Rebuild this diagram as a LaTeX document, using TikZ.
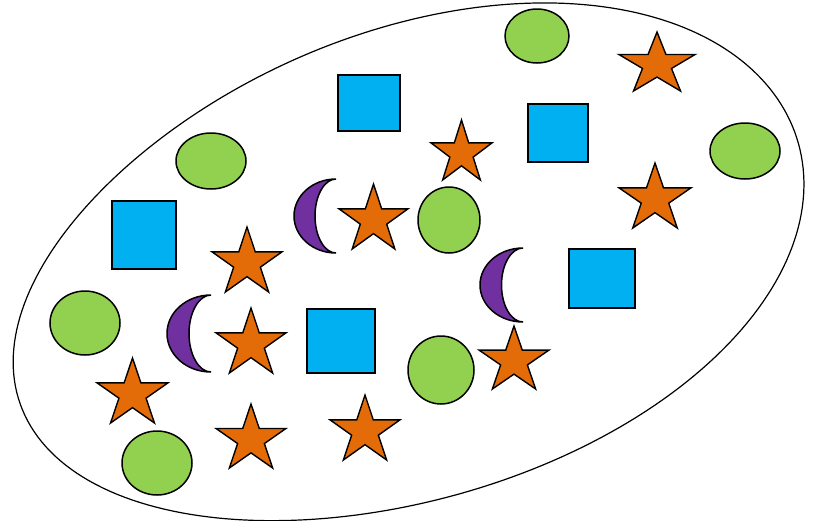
\documentclass[tikz,border=0pt]{standalone}
\usetikzlibrary{shapes.geometric}
\definecolor{cgreen}{HTML}{92D050}
\definecolor{cblue}{HTML}{00B0F0}
\definecolor{corange}{HTML}{E36C09}
\definecolor{cpurple}{HTML}{7030A0}
\tikzset{
  setline/.style={draw=black, line width=1.2pt},
  greenblob/.style={draw=black, line width=1.5pt, fill=cgreen},
  bluebox/.style={draw=black, line width=1.5pt, fill=cblue},
  orangestar/.style={draw=black, line width=1.4pt, fill=corange, line join=miter},
  purplemoon/.style={draw=black, line width=1.5pt, fill=cpurple},
  declare function={
    egg(\t)=1+0.0144*cos(\t)+0.0197*sin(\t)+0.0005*cos(2*\t)-0.0075*sin(2*\t)-0.0125*cos(3*\t)+0.0043*sin(3*\t);
  },
}
% star inside bounding box: left, top, right, bottom (pixel coords, y down)
\newcommand{\ostar}[4]{%
  \begin{scope}[shift={({(#1+#3)/2},{#2+(#4-#2)/1.809})}, xscale={(#3-#1)/1.902}, yscale={(#4-#2)/1.809}]
    \draw[orangestar] (0,-1) -- (0.2245,-0.309) -- (0.951,-0.309) -- (0.3633,0.118) -- (0.588,0.809) -- (0,0.382) -- (-0.588,0.809) -- (-0.3633,0.118) -- (-0.951,-0.309) -- (-0.2245,-0.309) -- cycle;
  \end{scope}}
% crescent: left, top, width, height (opening to the right)
\newcommand{\omoon}[4]{%
  \draw[purplemoon] ({#1+#3},#2)
    .. controls ({#1+#3-0.552*#3},#2) and (#1,{#2+#4/2-0.552*#4/2}) .. (#1,{#2+#4/2})
    .. controls (#1,{#2+#4/2+0.552*#4/2}) and ({#1+#3-0.552*#3},{#2+#4}) .. ({#1+#3},{#2+#4})
    .. controls ({#1+#3-0.552*0.5*#3},{#2+#4}) and ({#1+0.5*#3},{#2+#4/2+0.552*#4/2}) .. ({#1+0.5*#3},{#2+#4/2})
    .. controls ({#1+0.5*#3},{#2+#4/2-0.552*#4/2}) and ({#1+#3-0.552*0.5*#3},#2) .. cycle;}
\begin{document}
\begin{tikzpicture}[x=1pt,y=-1pt]
\useasboundingbox (0,0) rectangle (819,520);
% outer set (slightly egg-shaped tilted oval)
\draw[setline] plot[domain=0:360, samples=241, variable=\t]
  ({405+egg(\t)*(388.8*cos(\t)+74.25*sin(\t))}, {262.5+egg(\t)*(-130.1*cos(\t)+221.9*sin(\t))}) -- cycle;
% green ellipses
\draw[greenblob] (537,36) ellipse [x radius=32pt, y radius=27pt];
\draw[greenblob] (211,161) ellipse [x radius=35pt, y radius=28pt];
\draw[greenblob] (745,151) ellipse [x radius=35pt, y radius=28pt];
\draw[greenblob] (449,220) ellipse [x radius=31pt, y radius=33pt];
\draw[greenblob] (85,323) ellipse [x radius=35pt, y radius=32pt];
\draw[greenblob] (441,370) ellipse [x radius=33pt, y radius=34pt];
\draw[greenblob] (157,463) ellipse [x radius=35pt, y radius=32pt];
% blue rectangles
\draw[bluebox] (338,75) rectangle (400,131);
\draw[bluebox] (528,104) rectangle (588,162);
\draw[bluebox] (112,201) rectangle (176,269);
\draw[bluebox] (569,249) rectangle (635,308);
\draw[bluebox] (307,309) rectangle (375,373);
% stars
\ostar{619}{32}{695}{91}
\ostar{431}{120}{492}{180}
\ostar{339}{184}{408}{249}
\ostar{619}{163}{691}{228}
\ostar{212}{227}{282}{292}
\ostar{216}{308}{286}{373}
\ostar{479}{326}{549}{389}
\ostar{97}{358}{168}{423}
\ostar{216}{404}{286}{468}
\ostar{330}{395}{400}{460}
% moons
\omoon{294}{179}{42}{74}
\omoon{167}{295}{44}{77}
\omoon{480}{248}{43}{74}
\end{tikzpicture}
\end{document}
